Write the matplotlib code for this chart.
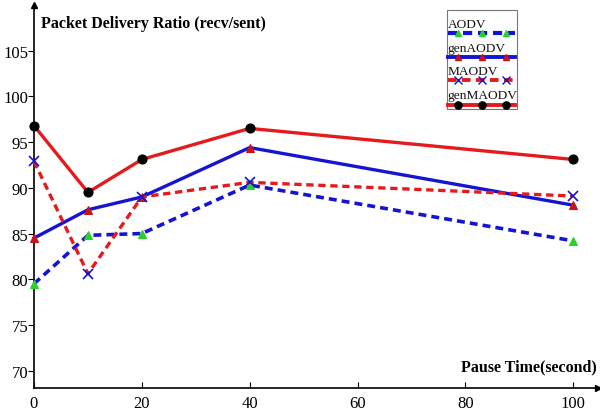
import matplotlib.pyplot as plt
from matplotlib.patches import Rectangle

# Data
pause_time = [0, 10, 20, 40, 100]
aodv = [79.5, 84.8, 85.0, 90.3, 84.2]
gen_aodv = [84.5, 87.6, 89.0, 94.4, 88.1]
maodv = [92.9, 80.6, 89.0, 90.6, 89.1]
gen_maodv = [96.8, 89.5, 93.1, 96.5, 93.1]

x_ticks = [0, 20, 40, 60, 80, 100]
y_ticks = [70, 75, 80, 85, 90, 95, 100, 105]

RED = '#e41a1c'
BLUE = '#1414d2'
GREEN = '#2bd12b'
DARKRED = '#c81414'

plt.rcParams['font.family'] = ['Liberation Serif', 'DejaVu Serif']

fig = plt.figure(figsize=(6.0, 4.14), dpi=100)
ax = fig.add_axes([34 / 600, 25 / 414, 564 / 600, 383 / 414])

styles = [
    (aodv, BLUE, (0, (2.2, 1.4)), '^', GREEN, 6, 2.6),
    (gen_aodv, BLUE, '-', '^', DARKRED, 6, 2.4),
    (maodv, RED, (0, (2.2, 1.4)), 'x', BLUE, 7, 2.4),
    (gen_maodv, RED, '-', 'o', 'black', 6.5, 2.4),
]
for vals, col, ls, mk, mcol, ms, lw in styles:
    ax.plot(pause_time, vals, color=col, linestyle=ls, linewidth=lw,
            marker=mk, markersize=ms, markerfacecolor=mcol,
            markeredgecolor=mcol, markeredgewidth=1.2 if mk == 'x' else 0.8,
            clip_on=False, zorder=3)

ax.set_xlim(0, 104.6)
ax.set_ylim(68.1, 110)
ax.set_xticks(x_ticks)
ax.set_yticks(y_ticks)
ax.tick_params(axis='x', direction='in', length=4, labelsize=12, pad=5)
ax.tick_params(axis='y', direction='out', length=4, labelsize=12, pad=0)
ax.spines['top'].set_visible(False)
ax.spines['right'].set_visible(False)
ax.spines['left'].set_linewidth(1.2)
ax.spines['bottom'].set_linewidth(1.2)

# axis arrows
ax.plot(1, 0, '>k', ms=4, transform=ax.transAxes, clip_on=False)
ax.plot(0, 1, '^k', ms=4, transform=ax.transAxes, clip_on=False)

ax.text(0.012, 0.975, 'Packet Delivery Ratio (recv/sent)', transform=ax.transAxes,
        fontsize=11.5, fontweight='bold', ha='left', va='top')
ax.text(0.997, 0.035, 'Pause Time(second)', transform=ax.transAxes,
        fontsize=11.5, fontweight='bold', ha='right', va='bottom')

# hand-drawn legend: label above each line sample
def fx(px):
    return (px - 34) / 564

def fy(py):
    return (389 - py) / 383

ax.add_patch(Rectangle((fx(446.5), fy(110)), fx(517) - fx(446.5), fy(11) - fy(110),
                       transform=ax.transAxes, fill=False, edgecolor='#777777',
                       linewidth=0.8, zorder=4))
entries = ['AODV', 'genAODV', 'MAODV', 'genMAODV']
text_y = [25, 49, 72, 96]
line_y = [34, 58, 81, 106]
for (vals, col, ls, mk, mcol, ms, lw), name, ty, ly in zip(styles, entries, text_y, line_y):
    ax.text(fx(447.5), fy(ty), name, transform=ax.transAxes, fontsize=9.6,
            ha='left', va='center', color='#111111', zorder=5)
    ax.plot([fx(448), fx(515)], [fy(ly), fy(ly)], color=col, linestyle=ls,
            linewidth=lw + 0.4, transform=ax.transAxes, clip_on=False, zorder=5)
    ax.plot([fx(458), fx(482), fx(506)], [fy(ly)] * 3, linestyle='none',
            marker=mk, markersize=ms * 0.8, markerfacecolor=mcol,
            markeredgecolor=mcol, transform=ax.transAxes, clip_on=False, zorder=6)

fig.savefig('out.png', dpi=100)
